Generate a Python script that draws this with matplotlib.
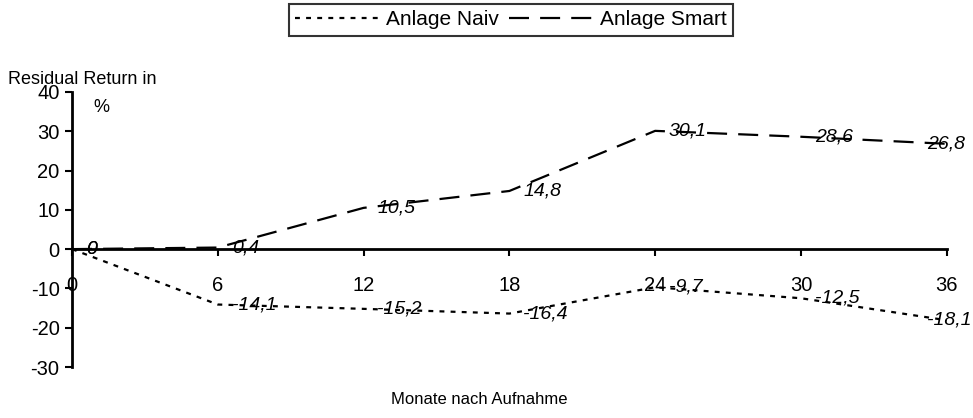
import matplotlib.pyplot as plt
import numpy as np

plt.rcParams['font.family'] = ['Liberation Sans', 'DejaVu Sans']
plt.rcParams['axes.unicode_minus'] = False

# data
months = [0, 6, 12, 18, 24, 30, 36]
naiv = [0, -14.1, -15.2, -16.4, -9.7, -12.5, -18.1]
smart = [0, 0.4, 10.5, 14.8, 30.1, 28.6, 26.8]

fig = plt.figure(figsize=(9.73, 4.18), dpi=100)
ax = fig.add_axes([0.074, 0.122, 0.899, 0.658])

ax.plot(months, naiv, color='black', lw=1.6, dashes=(2.2, 2.8), label='Anlage Naiv')
ax.plot(months, smart, color='black', lw=1.6, dashes=(9, 5), label='Anlage Smart')


def fmt(v):
    s = ('%.1f' % v).replace('.', ',')
    if s.endswith(',0'):
        s = s[:-2]
    return s


for xs, ys in [(months, naiv), (months, smart)]:
    for x, y in zip(xs, ys):
        # last labels pushed back inside the figure
        dx = -14 if x == months[-1] else 10
        ax.annotate(fmt(y), (x, y), xytext=(dx, 0), textcoords='offset points',
                    ha='left', va='center', fontsize=14, style='italic')

ax.set_xlim(0, 36)
ax.set_ylim(-30, 40)
ax.set_xticks(months)
ax.set_yticks(np.arange(-30, 41, 10))
ax.spines['top'].set_visible(False)
ax.spines['right'].set_visible(False)
ax.spines['bottom'].set_position(('data', 0))
ax.spines['left'].set_linewidth(2)
ax.spines['bottom'].set_linewidth(2)
ax.tick_params(axis='x', direction='out', length=5, width=1.5, pad=14, labelsize=14.5)
ax.tick_params(axis='y', direction='out', length=5, width=1.5, pad=4, labelsize=14.5)

fig.text(8 / 973, 1 - 80 / 418, 'Residual Return in', fontsize=13, va='center', ha='left')
fig.text(93 / 973, 1 - 108 / 418, '%', fontsize=13, va='center', ha='left')
fig.text(479 / 973, 1 - 400 / 418, 'Monate nach Aufnahme', fontsize=12, va='center', ha='center')

leg = fig.legend(loc='upper center', bbox_to_anchor=(0.525, 0.995), ncol=2, fontsize=15,
                 frameon=True, fancybox=False, edgecolor='black', handlelength=4.0,
                 handletextpad=0.35, columnspacing=0.5, borderpad=0.3, borderaxespad=0.1)
leg.get_frame().set_linewidth(1.5)

fig.savefig('out.png', dpi=100)
